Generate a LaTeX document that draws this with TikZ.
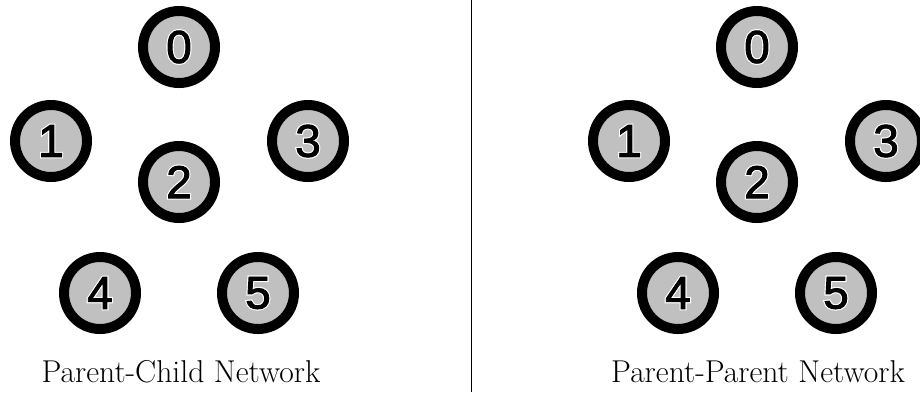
\documentclass[tikz,border=0pt]{standalone}
\usepackage{fontspec}
% node digits: a black sans digit over a wider white copy that forms its halo
\newfontfamily\digitfont[FakeBold=2]{Liberation Sans}
\newfontfamily\halofont[FakeBold=7]{Liberation Sans}
\usetikzlibrary{positioning}
\definecolor{nodegray}{HTML}{C0C0C0}
\tikzset{
  px/.style={x=1pt,y=-1pt},
  netnode/.style={circle, draw=black, line width=10pt, fill=nodegray,
    minimum size=72pt, inner sep=0pt, font=\fontsize{46}{46}\selectfont},
  caption/.style={font=\fontsize{31.6}{38}\selectfont, anchor=base, inner sep=0pt},
  divider/.style={line width=1pt}
}
\newcommand{\digit}[1]{%
  \makebox[0pt]{\halofont\color{white}#1}\makebox[0pt]{\digitfont #1}}
\begin{document}
\begin{tikzpicture}[px]
  \useasboundingbox (0,0) rectangle (920,392);
  % left network
  \begin{scope}[xshift=179pt]
    \node[netnode] (L0) at (0,47)   {\digit{0}};
    \node[netnode] (L1) at (-128,141) {\digit{1}};
    \node[netnode] (L2) at (0,182)  {\digit{2}};
    \node[netnode] (L3) at (129,141) {\digit{3}};
    \node[netnode] (L4) at (-79,293) {\digit{4}};
    \node[netnode] (L5) at (79,293)  {\digit{5}};
    \node[caption] (Lcap) at (2,382) {Parent-Child Network};
  \end{scope}
  % right network
  \begin{scope}[xshift=757pt]
    \node[netnode] (R0) at (0,47)   {\digit{0}};
    \node[netnode] (R1) at (-128,141) {\digit{1}};
    \node[netnode] (R2) at (0,182)  {\digit{2}};
    \node[netnode] (R3) at (129,141) {\digit{3}};
    \node[netnode] (R4) at (-79,293) {\digit{4}};
    \node[netnode] (R5) at (79,293)  {\digit{5}};
    \node[caption] (Rcap) at (1,382) {Parent-Parent Network};
  \end{scope}
  % separator between the two panels
  \coordinate (sepTop) at (471,0);
  \coordinate (sepBot) at (471,392);
  \draw[divider] (sepTop) -- (sepBot);
\end{tikzpicture}
\end{document}
